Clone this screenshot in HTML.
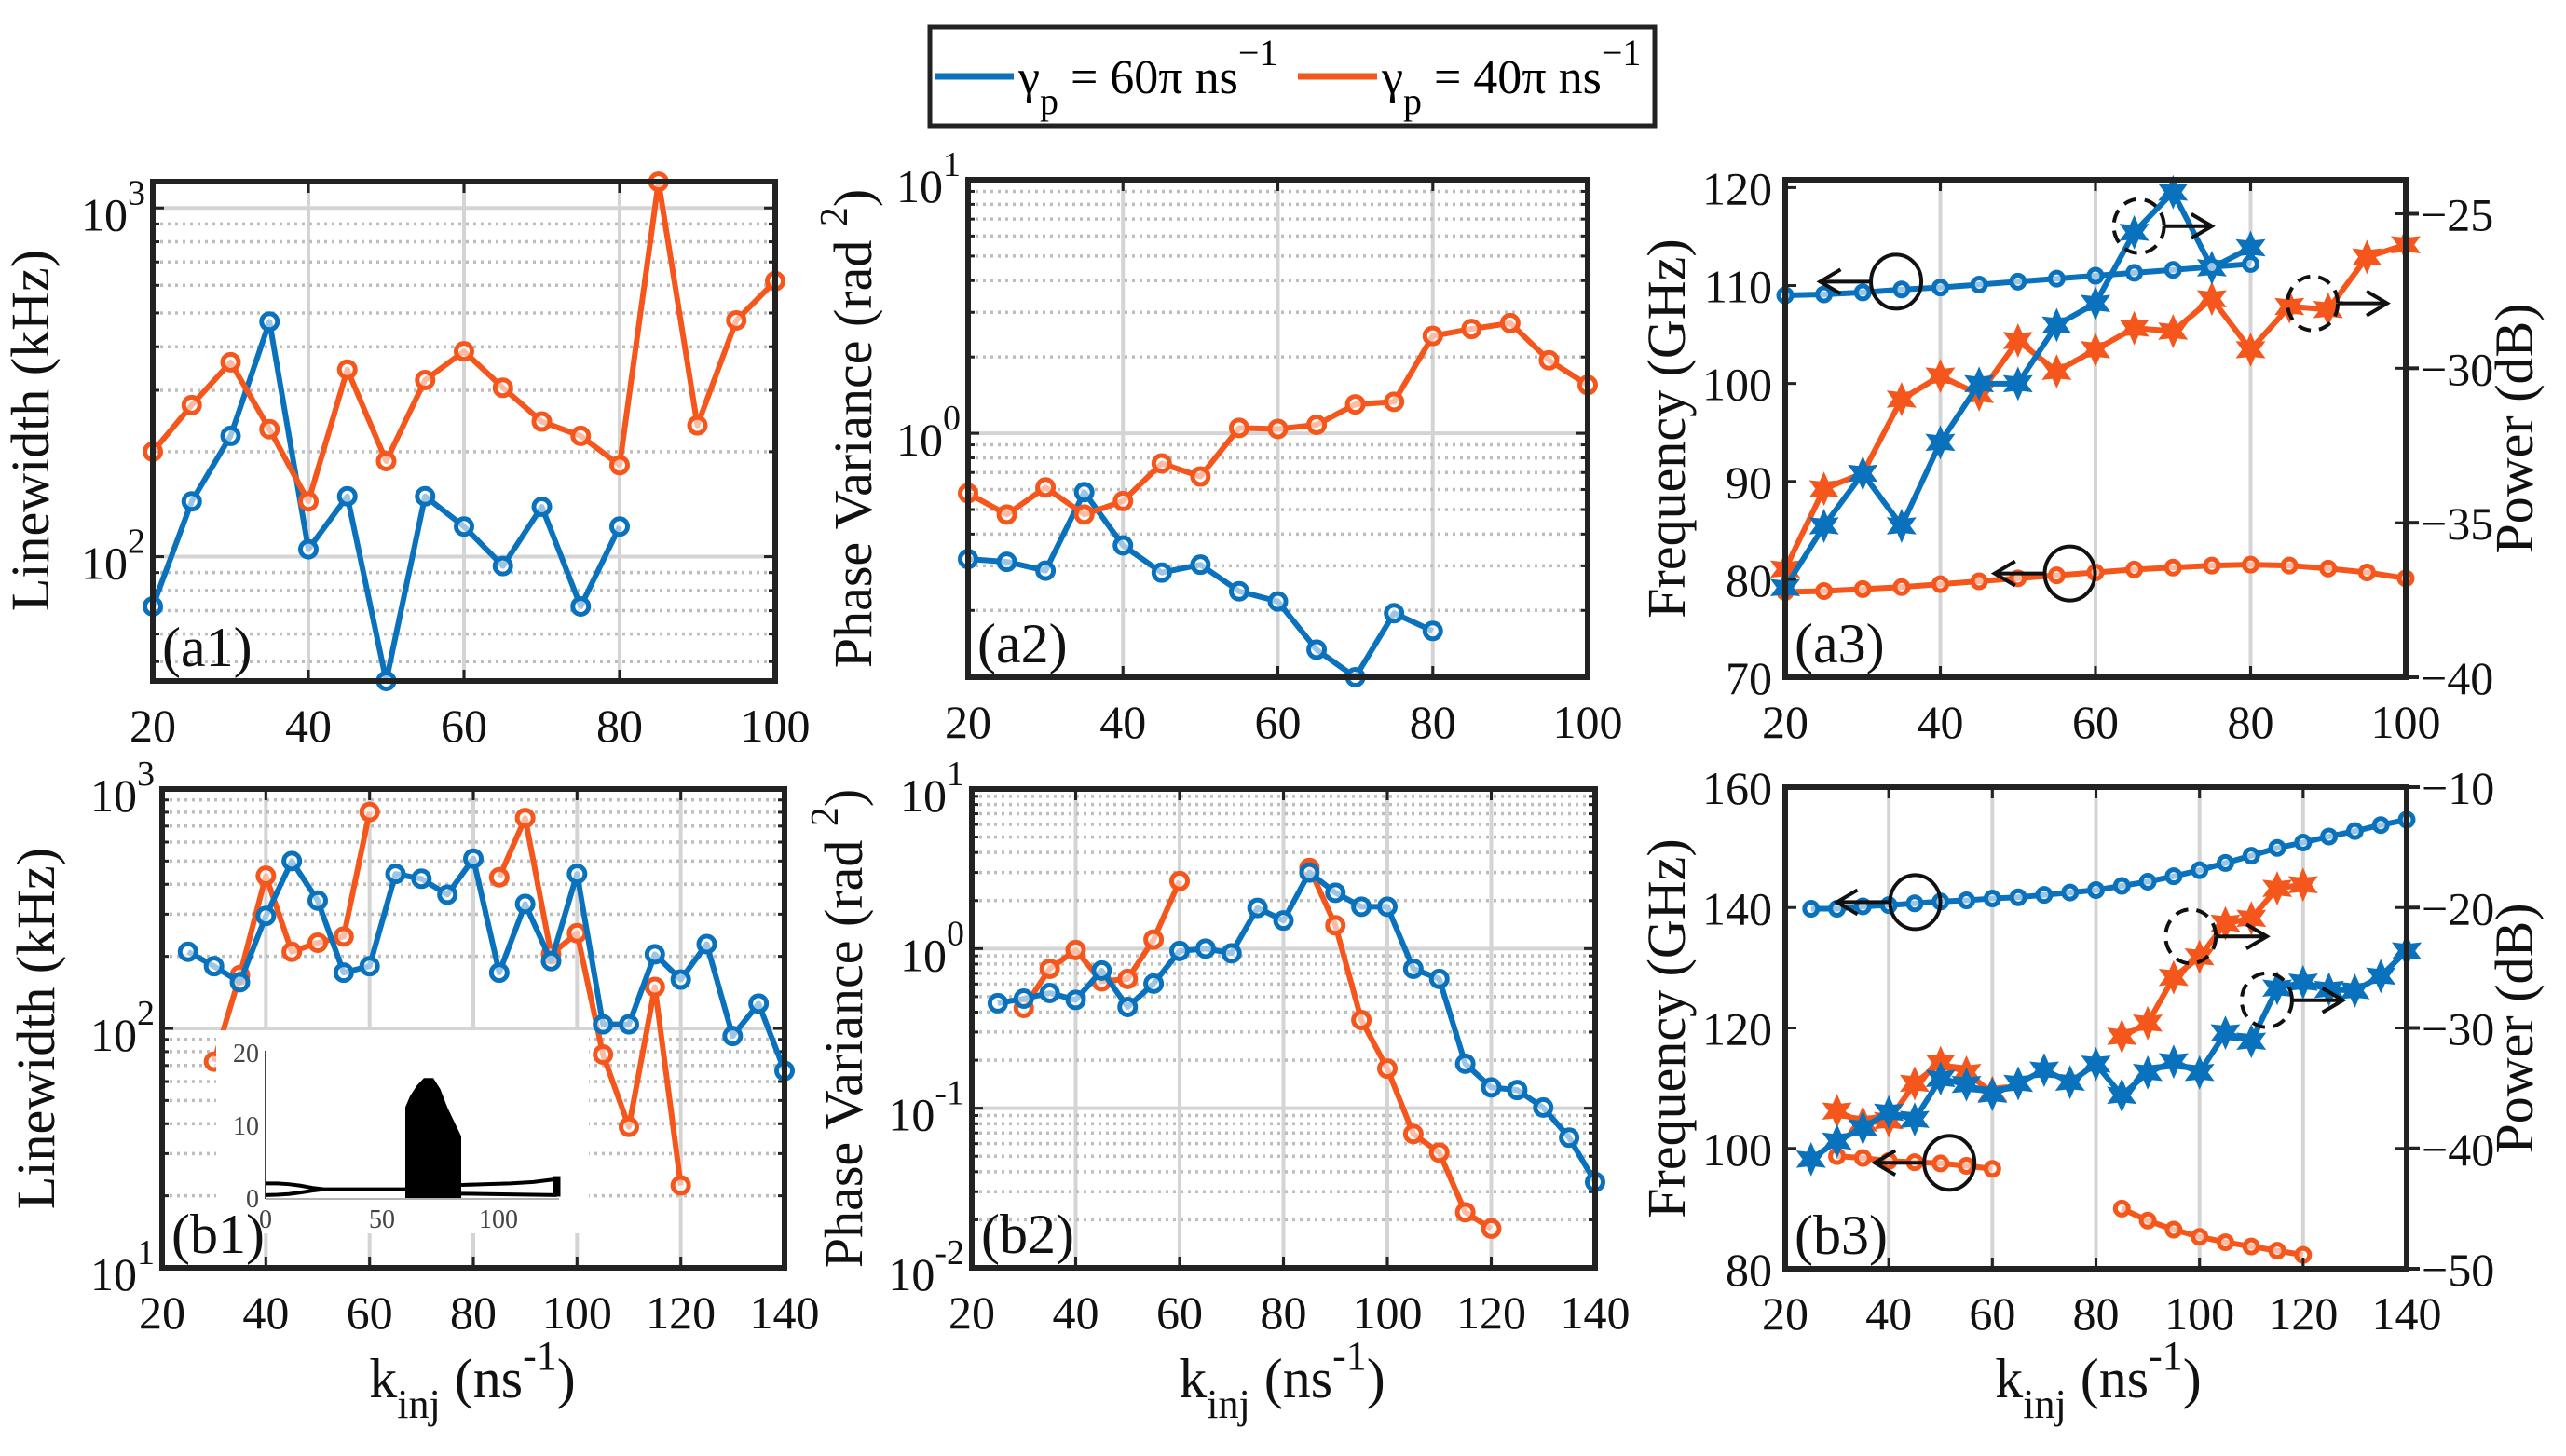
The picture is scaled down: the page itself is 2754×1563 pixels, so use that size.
<!DOCTYPE html>
<html><head><meta charset="utf-8"><style>
html,body{margin:0;padding:0;background:#fff;}
svg{display:block;font-family:"Liberation Serif","DejaVu Serif",serif;}
text{font-family:"Liberation Serif","DejaVu Serif",serif;}
</style></head><body>
<svg id="fig" width="2754" height="1563" viewBox="0 0 2754 1563" xmlns="http://www.w3.org/2000/svg">
<rect x="0" y="0" width="2754" height="1563" fill="#fff"/>
<g id="legend">
<rect x="998" y="29" width="778" height="106" fill="#fff" stroke="#222" stroke-width="5"/>
<line x1="1004" y1="82" x2="1088" y2="82" stroke="#0a72bd" stroke-width="7"/>
<text x="1093" y="100" font-size="52" font-family="Liberation Serif, serif">γ<tspan font-size="40" dy="22">p</tspan><tspan dy="-22"> = 60π ns</tspan><tspan font-size="40" dy="-30">−1</tspan></text>
<line x1="1393" y1="82" x2="1478" y2="82" stroke="#f5561c" stroke-width="7"/>
<text x="1483" y="100" font-size="52" font-family="Liberation Serif, serif">γ<tspan font-size="40" dy="22">p</tspan><tspan dy="-22"> = 40π ns</tspan><tspan font-size="40" dy="-30">−1</tspan></text>
</g>
</svg>
<script>
// ---------- data ----------
const kA = [20,25,30,35,40,45,50,55,60,65,70,75,80,85,90,95,100];
const kA60 = [20,25,30,35,40,45,50,55,60,65,70,75,80];
const kB = [25,30,35,40,45,50,55,60,65,70,75,80,85,90,95,100,105,110,115,120,125,130,135,140];
const kB40a = [30,35,40,45,50,55,60];
const kB40b = [85,90,95,100,105,110,115,120];

const a1Blue = [72,144,222,472,105,149,44,149,122,94,139,72,122];
const a1Orange = [200,272,361,232,144,344,188,321,388,305,244,222,183,1189,238,476,617];
const a2Blue = [0.319,0.311,0.287,0.586,0.361,0.282,0.303,0.238,0.217,0.140,0.109,0.195,0.166];
const a2Orange = [0.58,0.478,0.611,0.478,0.54,0.76,0.675,1.05,1.04,1.08,1.30,1.33,2.42,2.58,2.72,1.94,1.55];
const a3BlueFreq = [109.0,109.1,109.3,109.6,109.8,110.1,110.4,110.7,111.0,111.3,111.6,111.9,112.2];
const a3BluePow = [-37.1,-35.1,-33.4,-35.1,-32.4,-30.5,-30.5,-28.6,-27.9,-25.6,-24.3,-26.75,-26.1];
const a3OrangeFreq = [78.7,78.8,79.0,79.2,79.5,79.8,80.1,80.4,80.7,81.0,81.2,81.4,81.5,81.4,81.1,80.7,80.1];
const a3OrangePow = [-36.5,-33.9,-33.4,-31.0,-30.25,-30.85,-29.1,-30.1,-29.4,-28.7,-28.8,-27.75,-29.4,-28.0,-28.1,-26.4,-26.0];

const b1Blue = [209,182,156,295,500,342,171,182,442,422,362,512,171,331,191,442,104,104,204,160,225,93,127,66.5];
const b1OrangeA = [72.7,167,434,209,228,242,802];
const b1OrangeB = [428,757,204,250,77.8,38.8,149,22.1];
const b2Blue = [0.455,0.486,0.527,0.477,0.729,0.431,0.604,0.967,1.0,0.935,1.80,1.50,3.0,2.24,1.83,1.83,0.748,0.646,0.19,0.135,0.130,0.101,0.0654,0.0345];
const b2OrangeA = [0.425,0.748,0.98,0.624,0.646,1.14,2.65];
const b2OrangeB = [3.2,1.40,0.357,0.177,0.069,0.0527,0.0223,0.0176];
const b3BlueFreq = [139.8,139.8,140.2,140.4,140.7,141.0,141.2,141.5,141.7,142.1,142.5,142.9,143.6,144.3,145.2,146.2,147.4,148.6,149.9,150.8,151.8,152.7,153.7,154.6];
const b3BluePow = [-40.9,-39.4,-38.3,-37.0,-37.6,-34.2,-34.7,-35.5,-34.6,-33.5,-34.5,-33.0,-35.6,-33.7,-32.8,-33.7,-30.4,-31.1,-26.7,-26.2,-26.8,-26.9,-25.7,-23.6];
const b3OrangePowA = [-36.9,-37.9,-37.7,-34.6,-32.9,-33.7,-35.4];
const b3OrangePowB = [-30.7,-29.6,-25.8,-24.1,-21.3,-20.9,-18.4,-18.1];
const b3OrangeFreqA = [98.7,98.4,97.9,97.7,97.5,97.1,96.6];
const b3OrangeFreqB = [90.0,88.0,86.5,85.3,84.4,83.7,83.0,82.3];

// inset bifurcation data
const insetUpperX = [0,5,10,15,20,25,30,40,50,60];
const insetUpperY = [2.0,2.0,1.9,1.7,1.4,1.2,1.2,1.2,1.2,1.2];
const insetLowerX = [0,5,10,15,20,25];
const insetLowerY = [0.4,0.45,0.55,0.75,1.0,1.2];
const insetChaosX = [60,62,65,68,72,75,78,81,84];
const insetChaosY = [12.5,14,15.5,16.5,16.5,15,12.5,10.5,8.5];
const insetAfterX = [84,95,105,115,125];
const insetAfterUp = [1.8,1.9,2.0,2.2,2.6];
const insetAfterLo = [0.6,0.55,0.5,0.45,0.4];

// ---------- helpers ----------
const NS='http://www.w3.org/2000/svg';
const svg=document.getElementById('fig');
const BLUE='#0a72bd', ORANGE='#f5561c';
const SERIF='Liberation Serif, DejaVu Serif, serif';
function mk(tag,attrs,parent){const e=document.createElementNS(NS,tag);for(const k in attrs)e.setAttribute(k,attrs[k]);if(tag==='text'&&!attrs['font-family'])e.setAttribute('font-family',SERIF);(parent||svg).appendChild(e);return e;}
function axis(x0,x1,y0,y1,xmin,xmax,ymin,ymax,log){
  const sx=v=>x0+(v-xmin)/(xmax-xmin)*(x1-x0);
  let sy;
  if(log){const a=Math.log10(ymin),b=Math.log10(ymax);sy=v=>y1-(Math.log10(v)-a)/(b-a)*(y1-y0);}
  else sy=v=>y1-(v-ymin)/(ymax-ymin)*(y1-y0);
  return {sx,sy,x0,x1,y0,y1,xmin,xmax,ymin,ymax,log};
}
function series(g,ax,xs,ys,color,name,marker,yax){
  const s=yax||ax.sy;
  const pts=xs.map((x,i)=>[ax.sx(x),s(ys[i])]);
  const p=mk('polyline',{points:pts.map(p=>p.join(',')).join(' '),fill:'none',stroke:color,'stroke-width':6,'stroke-linejoin':'round'},g);
  
  
  pts.forEach((pt,i)=>{
    let m;
    if(marker==='star'){
      const r=16,ri=8;let d='';
      for(let k=0;k<12;k++){const ang=-Math.PI/2+k*Math.PI/6;const rr=k%2?ri:r;d+=(k?'L':'M')+(pt[0]+rr*Math.cos(ang)).toFixed(1)+','+(pt[1]+rr*Math.sin(ang)).toFixed(1);}
      m=mk('path',{d:d+'Z',fill:color,stroke:color,'stroke-width':2},g);
    } else {
      const r=marker==='small'?7:8.5;
      m=mk('circle',{cx:pt[0],cy:pt[1],r:r,fill:'#fff','fill-opacity':0.6,stroke:color,'stroke-width':5},g);
    }
    
    
  });
}
function frame(g,ax,xticks){
  xticks.forEach(t=>{if(t>ax.xmin&&t<ax.xmax){const l=mk('line',{x1:ax.sx(t),x2:ax.sx(t),y1:ax.y0,y2:ax.y1,stroke:'#d4d4d4','stroke-width':4},g);}});
  if(ax.log){
    const a=Math.floor(Math.log10(ax.ymin)),b=Math.ceil(Math.log10(ax.ymax));
    for(let d=a;d<=b;d++){for(let k=1;k<10;k++){const v=k*Math.pow(10,d);if(v<=ax.ymin||v>=ax.ymax)continue;const y=ax.sy(v);
      const l=mk('line',{x1:ax.x0,x2:ax.x1,y1:y,y2:y,stroke:k===1?'#d4d4d4':'#bdbdbd','stroke-width':k===1?4:3.5,'stroke-dasharray':k===1?'none':'3,5'},g);
      
      mk('line',{x1:ax.x0,x2:ax.x0+(k===1?12:7),y1:y,y2:y,stroke:'#222','stroke-width':3},g);
      mk('line',{x1:ax.x1,x2:ax.x1-(k===1?12:7),y1:y,y2:y,stroke:'#222','stroke-width':3},g);
    }}
  }
}
function frameTop(g,ax,xticks,yticks,ytickLabels,opts){
  opts=opts||{};
  const r=mk('rect',{x:ax.x0,y:ax.y0,width:ax.x1-ax.x0,height:ax.y1-ax.y0,fill:'none',stroke:'#222','stroke-width':6},g);
  
  xticks.forEach(t=>{const x=ax.sx(t);
    mk('line',{x1:x,x2:x,y1:ax.y1,y2:ax.y1-12,stroke:'#222','stroke-width':3},g);
    mk('line',{x1:x,x2:x,y1:ax.y0,y2:ax.y0+12,stroke:'#222','stroke-width':3},g);
    const tx=mk('text',{x:x,y:ax.y1+65,'font-size':50,'text-anchor':'middle',fill:'#111'},g);tx.textContent=t;
    });
  yticks.forEach((t,i)=>{const y=ax.sy(t);
    if(!ax.log){mk('line',{x1:ax.x0,x2:ax.x0+12,y1:y,y2:y,stroke:'#222','stroke-width':3},g);
      if(!opts.right)mk('line',{x1:ax.x1,x2:ax.x1-12,y1:y,y2:y,stroke:'#222','stroke-width':3},g);}
    const lab=ytickLabels[i];
    const tx=mk('text',{x:ax.x0-14,y:y+18,'font-size':50,'text-anchor':'end',fill:'#111'},g);
    
    if(Array.isArray(lab)){tx.setAttribute('x',ax.x0-8);tx.setAttribute('y',y+24);
      const b=mk('tspan',{},tx);b.textContent=lab[0];
      const s=mk('tspan',{'font-size':38,dy:-28},tx);s.textContent=lab[1];}
    else tx.textContent=lab;});
}
function rightAxis(g,ax,sy2,ticks,labels){
  ticks.forEach((t,i)=>{const y=sy2(t);
    mk('line',{x1:ax.x1,x2:ax.x1+14,y1:y,y2:y,stroke:'#222','stroke-width':4},g);
    mk('line',{x1:ax.x1,x2:ax.x1-12,y1:y,y2:y,stroke:'#222','stroke-width':3},g);
    const tx=mk('text',{x:ax.x1+16,y:y+18,'font-size':50,'text-anchor':'start',fill:'#111'},g);tx.textContent=labels[i];
    });
}
function ylabel(g,x,y,parts,name){
  const t=mk('text',{x:0,y:0,'font-size':58,'text-anchor':'middle',fill:'#111',transform:`translate(${x},${y}) rotate(-90)`},g);
  
  parts.forEach(p=>{const s=mk('tspan',p.sup?{'font-size':42,dy:-26}:(p.after?{dy:26}:{}),t);s.textContent=p.t;});
}
function xlabel(g,x,y){
  const t=mk('text',{x:x,y:y,'font-size':60,'text-anchor':'middle',fill:'#111'},g);
  
  const a=mk('tspan',{},t);a.textContent='k';
  const b=mk('tspan',{'font-size':44,dy:22},t);b.textContent='inj';
  const c=mk('tspan',{dy:-22},t);c.textContent=' (ns';
  const d=mk('tspan',{'font-size':44,dy:-30},t);d.textContent='-1';
  const e=mk('tspan',{dy:30},t);e.textContent=')';
}
function panelLabel(g,ax,txt){
  const t=mk('text',{x:ax.x0+10,y:ax.y1-16,'font-size':60,fill:'#111'},g);t.textContent=txt;
  
}
function annot(g,cx,cy,ax2,dashed,name){
  const e=mk('ellipse',{cx:cx,cy:cy,rx:27,ry:29,fill:'none',stroke:'#111','stroke-width':4,'stroke-dasharray':dashed?'14,9':'none'},g);
  
  const x1=dashed?cx+27:cx-27;
  const dir=ax2>x1?1:-1;
  const a=mk('path',{d:`M${x1},${cy} L${ax2},${cy} M${ax2-dir*22},${cy-13} L${ax2},${cy} L${ax2-dir*22},${cy+13}`,fill:'none',stroke:'#111','stroke-width':4},g);
  
}
function grp(name){const g=mk('g',{});return g;}

// ---------- a1 ----------
{const g=grp('panel-a1');const ax=axis(164,832,195,731,20,100,44,1190,true);
 frame(g,ax,[20,40,60,80,100]);
 series(g,ax,kA60,a1Blue,BLUE,'a1-blue');series(g,ax,kA,a1Orange,ORANGE,'a1-orange');
 frameTop(g,ax,[20,40,60,80,100],[100,1000],[['10','2'],['10','3']]);
 panelLabel(g,ax,'(a1)');
 ylabel(g,52,462,[{t:'Linewidth (kHz)'}],'y-axis-title-a1');}
// ---------- a2 ----------
{const g=grp('panel-a2');const ax=axis(1039,1704,193,727,20,100,0.109,10,true);
 frame(g,ax,[20,40,60,80,100]);
 series(g,ax,kA60,a2Blue,BLUE,'a2-blue');series(g,ax,kA,a2Orange,ORANGE,'a2-orange');
 frameTop(g,ax,[20,40,60,80,100],[1,10],[['10','0'],['10','1']]);
 panelLabel(g,ax,'(a2)');
 ylabel(g,935,460,[{t:'Phase Variance (rad '},{t:'2',sup:true},{t:')',after:true}],'y-axis-title-a2');}
// ---------- a3 ----------
{const g=grp('panel-a3');const ax=axis(1916,2582,193,727,20,100,70,120.8,false);
 const sy2=v=>727-(v-(-40))/(-23.9-(-40))*(727-193);
 frame(g,ax,[20,40,60,80,100]);
 series(g,ax,kA,a3OrangeFreq,ORANGE,'a3-orange-frequency','small');
 series(g,ax,kA,a3OrangePow,ORANGE,'a3-orange-power','star',sy2);
 series(g,ax,kA60,a3BluePow,BLUE,'a3-blue-power','star',sy2);
 series(g,ax,kA60,a3BlueFreq,BLUE,'a3-blue-frequency','small');
 frameTop(g,ax,[20,40,60,80,100],[70,80,90,100,110,120],['70','80','90','100','110','120'],{right:true});
 rightAxis(g,ax,sy2,[-40,-35,-30,-25],['−40','−35','−30','−25']);
 annot(g,ax.sx(34.3),ax.sy(110.4),ax.sx(24.5),false,'a3-blue-freq-annotation');
 annot(g,ax.sx(56.7),ax.sy(80.6),ax.sx(47),false,'a3-orange-freq-annotation');
 annot(g,ax.sx(65.6),sy2(-25.4),ax.sx(75),true,'a3-blue-power-annotation');
 annot(g,ax.sx(88),sy2(-27.9),ax.sx(97.6),true,'a3-orange-power-annotation');
 panelLabel(g,ax,'(a3)');
 ylabel(g,1808,460,[{t:'Frequency (GHz)'}],'y-axis-title-a3');
 ylabel(g,2718,460,[{t:'Power (dB)'}],'right-y-axis-title-a3');}
// ---------- b1 ----------
{const g=grp('panel-b1');const ax=axis(174,842,847,1361,20,140,10,1000,true);
 frame(g,ax,[20,40,60,80,100,120,140]);
 series(g,ax,kB40a,b1OrangeA,ORANGE,'b1-orange-low');series(g,ax,kB40b,b1OrangeB,ORANGE,'b1-orange-high');
 series(g,ax,kB,b1Blue,BLUE,'b1-blue');
 const ig=grp('inset-bifurcation');g.appendChild(ig);
 mk('rect',{x:232,y:1106,width:400,height:218,fill:'#fff'},ig);
 const ix=v=>285+v*2.5, iy=v=>1286-v*7.8;
 const ch=insetChaosX.map((x,i)=>ix(x)+','+iy(insetChaosY[i])).join(' ');
 const blk=mk('polygon',{points:ix(60)+','+iy(0)+' '+ch+' '+ix(84)+','+iy(0),fill:'#000'},ig);
 
 [[insetUpperX,insetUpperY],[insetLowerX,insetLowerY],[insetAfterX,insetAfterUp],[insetAfterX,insetAfterLo]].forEach(([xs,ys])=>{
   const pl=mk('polyline',{points:xs.map((x,i)=>ix(x)+','+iy(ys[i])).join(' '),fill:'none',stroke:'#000','stroke-width':4},ig);
   });
 mk('line',{x1:ix(125),x2:ix(125),y1:iy(0.2),y2:iy(3),stroke:'#000','stroke-width':8},ig);
 mk('line',{x1:285,x2:285,y1:1128,y2:1287,stroke:'#444','stroke-width':2},ig);
 mk('line',{x1:285,x2:600,y1:1287,y2:1287,stroke:'#999','stroke-width':1.5},ig);
 [[0,'0'],[10,'10'],[20,'20']].forEach(([v,s])=>{const t=mk('text',{x:278,y:iy(v)+10,'font-size':28,'text-anchor':'end',fill:'#444','font-family':'Liberation Sans, sans-serif'},ig);t.textContent=s;});
 [[0,'0'],[50,'50'],[100,'100']].forEach(([v,s])=>{const t=mk('text',{x:ix(v),y:1318,'font-size':28,'text-anchor':'middle',fill:'#444','font-family':'Liberation Sans, sans-serif'},ig);t.textContent=s;});
 frameTop(g,ax,[20,40,60,80,100,120,140],[10,100,1000],[['10','1'],['10','2'],['10','3']]);
 panelLabel(g,ax,'(b1)');
 ylabel(g,58,1104,[{t:'Linewidth (kHz)'}],'y-axis-title-b1');
 xlabel(g,507,1500);}
// ---------- b2 ----------
{const g=grp('panel-b2');const ax=axis(1043,1712,847,1361,20,140,0.01,10,true);
 frame(g,ax,[20,40,60,80,100,120,140]);
 series(g,ax,kB40a,b2OrangeA,ORANGE,'b2-orange-low');series(g,ax,kB40b,b2OrangeB,ORANGE,'b2-orange-high');
 series(g,ax,kB,b2Blue,BLUE,'b2-blue');
 frameTop(g,ax,[20,40,60,80,100,120,140],[0.01,0.1,1,10],[['10','-2'],['10','-1'],['10','0'],['10','1']]);
 panelLabel(g,ax,'(b2)');
 ylabel(g,925,1104,[{t:'Phase Variance (rad '},{t:'2',sup:true},{t:')',after:true}],'y-axis-title-b2');
 xlabel(g,1376,1500);}
// ---------- b3 ----------
{const g=grp('panel-b3');const ax=axis(1916,2583,845,1362,20,140,80,160,false);
 const sy2=v=>1362-(v-(-50))/40*(1362-845);
 frame(g,ax,[20,40,60,80,100,120,140]);
 series(g,ax,kB40a,b3OrangeFreqA,ORANGE,'b3-orange-frequency-low','small');
 series(g,ax,kB40b,b3OrangeFreqB,ORANGE,'b3-orange-frequency-high','small');
 series(g,ax,kB40a,b3OrangePowA,ORANGE,'b3-orange-power-low','star',sy2);
 series(g,ax,kB40b,b3OrangePowB,ORANGE,'b3-orange-power-high','star',sy2);
 series(g,ax,kB,b3BluePow,BLUE,'b3-blue-power','star',sy2);
 series(g,ax,kB,b3BlueFreq,BLUE,'b3-blue-frequency','small');
 frameTop(g,ax,[20,40,60,80,100,120,140],[80,100,120,140,160],['80','100','120','140','160'],{right:true});
 rightAxis(g,ax,sy2,[-50,-40,-30,-20,-10],['−50','−40','−30','−20','−10']);
 annot(g,ax.sx(45.1),ax.sy(140.9),ax.sx(30),false,'b3-blue-freq-annotation');
 annot(g,ax.sx(51.7),ax.sy(97.6),ax.sx(37.3),false,'b3-orange-freq-annotation');
 annot(g,ax.sx(98.3),sy2(-22.4),ax.sx(113),true,'b3-orange-power-annotation');
 annot(g,ax.sx(113),sy2(-27.7),ax.sx(127.7),true,'b3-blue-power-annotation');
 panelLabel(g,ax,'(b3)');
 ylabel(g,1808,1104,[{t:'Frequency (GHz)'}],'y-axis-title-b3');
 ylabel(g,2718,1104,[{t:'Power (dB)'}],'right-y-axis-title-b3');
 xlabel(g,2252,1500);}
</script>
</body></html>
